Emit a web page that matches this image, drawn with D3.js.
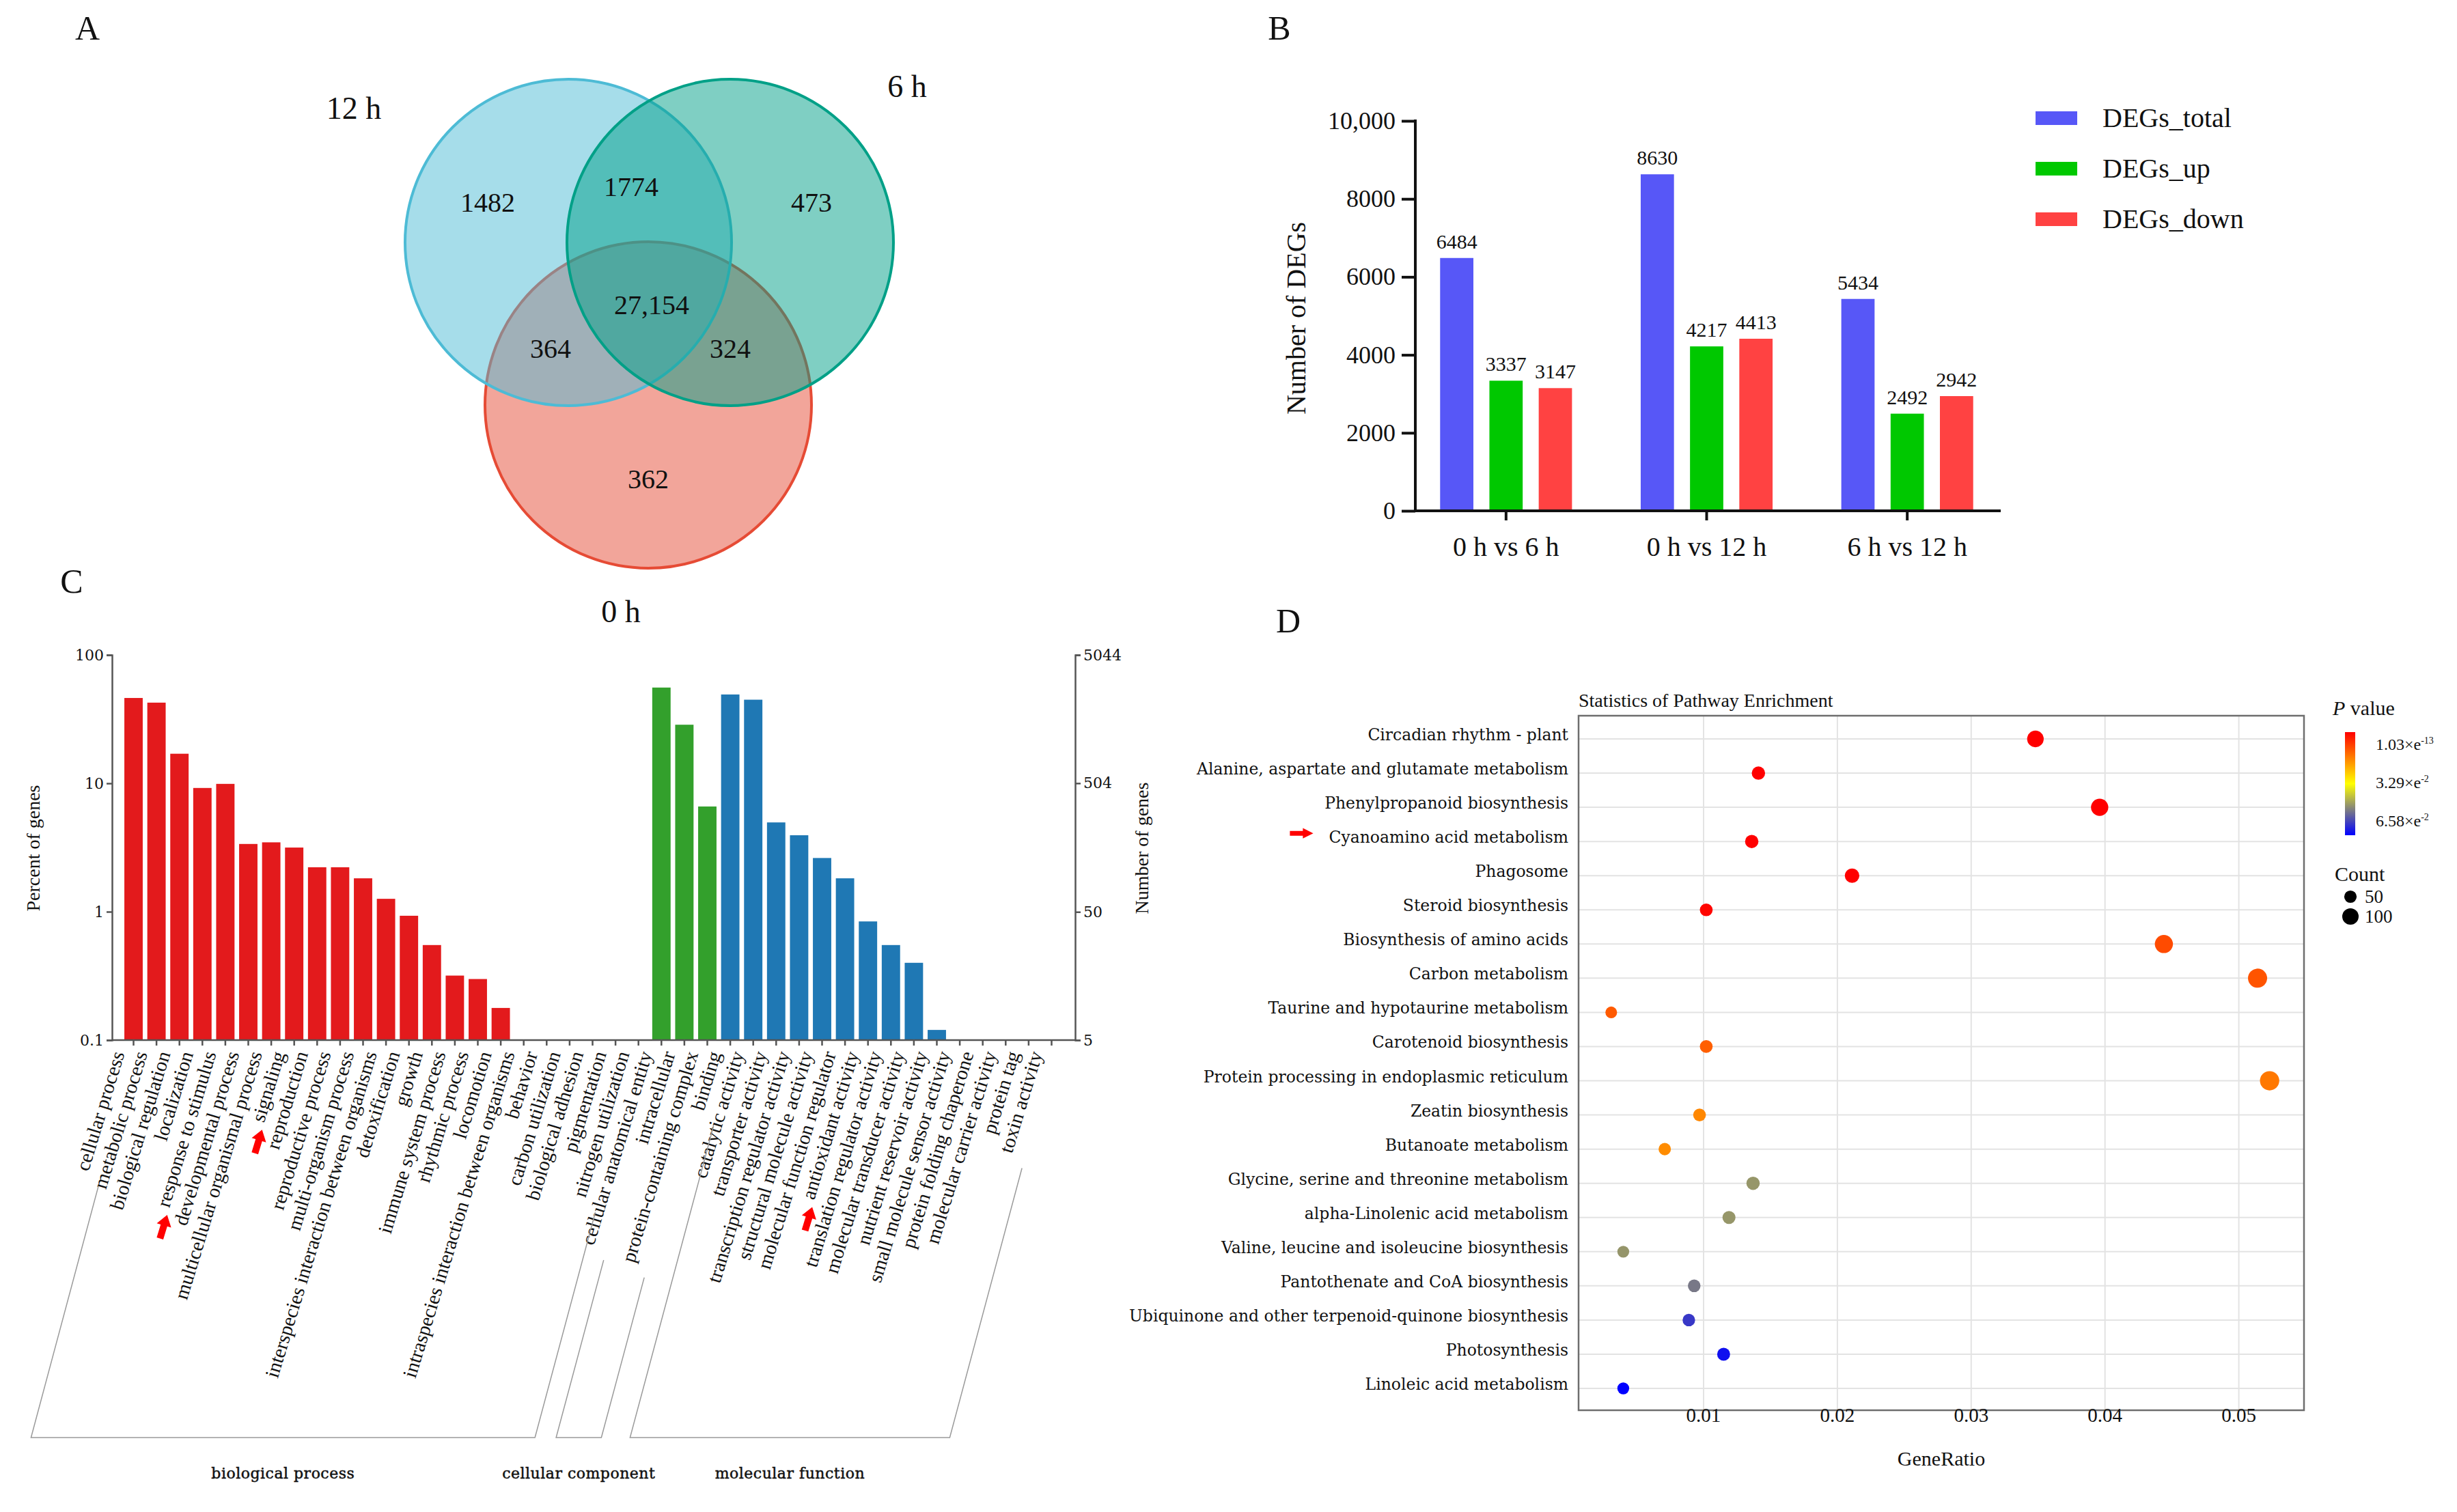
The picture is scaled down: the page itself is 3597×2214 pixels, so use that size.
<!DOCTYPE html>
<html>
<head>
<meta charset="utf-8">
<script src="https://cdn.jsdelivr.net/npm/d3@7"></script>
<style>
  body { margin: 0; background: #fff; }
  text { font-family: "Liberation Serif", "Times New Roman", serif; fill: #111; }
</style>
</head>
<body>
<script>
// ---------- data ----------
// A: Venn
const vennSets = ["12 h", "6 h", "0 h"];
const vennRegions = ["12h", "12h_6h", "6h", "all", "12h_0h", "6h_0h", "0h"];
const vennCounts = [1482, 1774, 473, 27154, 364, 324, 362];

// B: DEG counts
const degGroups = ["0 h vs 6 h", "0 h vs 12 h", "6 h vs 12 h"];
const degSeries = ["DEGs_total", "DEGs_up", "DEGs_down"];
const degTotal = [6484, 8630, 5434];
const degUp = [3337, 4217, 2492];
const degDown = [3147, 4413, 2942];
const degTicks = [0, 2000, 4000, 6000, 8000, 10000];

// C: GO classification (percent of genes)
const goBP = ["cellular process", "metabolic process", "biological regulation", "localization",
  "response to stimulus", "developmental process", "multicellular organismal process", "signaling",
  "reproduction", "reproductive process", "multi-organism process",
  "interspecies interaction between organisms", "detoxification", "growth", "immune system process",
  "rhythmic process", "locomotion", "intraspecies interaction between organisms", "behavior",
  "carbon utilization", "biological adhesion", "pigmentation", "nitrogen utilization"];
const goCC = ["cellular anatomical entity", "intracellular", "protein-containing complex"];
const goMF = ["binding", "catalytic activity", "transporter activity", "transcription regulator activity",
  "structural molecule activity", "molecular function regulator", "antioxidant activity",
  "translation regulator activity", "molecular transducer activity", "nutrient reservoir activity",
  "small molecule sensor activity", "protein folding chaperone", "molecular carrier activity",
  "protein tag", "toxin activity"];
const bpPercent = [46.2, 42.5, 17.0, 9.2, 9.9, 3.37, 3.47, 3.16, 2.22, 2.22, 1.82, 1.26, 0.93, 0.55,
  0.318, 0.299, 0.178, 0, 0, 0, 0, 0, 0];
const ccPercent = [55.7, 28.6, 6.6];
const mfPercent = [49.2, 44.8, 4.96, 3.94, 2.62, 1.82, 0.84, 0.55, 0.40, 0.12, 0, 0, 0, 0, 0];
const goGroupNames = ["biological process", "cellular component", "molecular function"];
const percentTicks = [0.1, 1, 10, 100];
const geneTicks = [5, 50, 504, 5044];
const arrowTerms = ["response to stimulus", "signaling", "antioxidant activity"];

// D: KEGG enrichment
const pathways = ["Circadian rhythm - plant", "Alanine, aspartate and glutamate metabolism",
  "Phenylpropanoid biosynthesis", "Cyanoamino acid metabolism", "Phagosome", "Steroid biosynthesis",
  "Biosynthesis of amino acids", "Carbon metabolism", "Taurine and hypotaurine metabolism",
  "Carotenoid biosynthesis", "Protein processing in endoplasmic reticulum", "Zeatin biosynthesis",
  "Butanoate metabolism", "Glycine, serine and threonine metabolism", "alpha-Linolenic acid metabolism",
  "Valine, leucine and isoleucine biosynthesis", "Pantothenate and CoA biosynthesis",
  "Ubiquinone and other terpenoid-quinone biosynthesis", "Photosynthesis", "Linoleic acid metabolism"];
const geneRatio = [0.0348, 0.0141, 0.0396, 0.0136, 0.0211, 0.0102, 0.0444, 0.0514, 0.0031, 0.0102,
  0.0523, 0.0097, 0.0071, 0.0137, 0.0119, 0.0040, 0.0093, 0.0089, 0.0115, 0.0040];
const pValue = [1.03e-13, 2.1e-9, 4.5e-11, 3.2e-6, 1.8e-5, 6.4e-4, 0.0097, 0.0108, 0.0116, 0.0123,
  0.0155, 0.0174, 0.0181, 0.0464, 0.0465, 0.0466, 0.0503, 0.0586, 0.0638, 0.0658];
const geneCount = [68, 27, 77, 27, 41, 20, 87, 100, 6, 20, 102, 19, 14, 27, 23, 8, 18, 17, 22, 8];
const gratioTicks = [0.01, 0.02, 0.03, 0.04, 0.05];
const pLegend = [["1.03×e", "-13"], ["3.29×e", "-2"], ["6.58×e", "-2"]];
const countLegend = [50, 100];

// ---------- page ----------
const width = 3597, height = 2214;
const wide = '"DejaVu Serif", serif';

const svg = d3.select("body").append("svg")
  .attr("width", width)
  .attr("height", height)
  .style("background", "#fff");

svg.selectAll("text.panel")
  .data([["A", 128, 58], ["B", 1873, 58], ["C", 105, 868], ["D", 1886, 926]])
  .join("text")
  .attr("class", "panel")
  .attr("x", d => d[1]).attr("y", d => d[2])
  .attr("text-anchor", "middle")
  .style("font-size", "50px")
  .text(d => d[0]);

const arrowPath = "M-18,-5 L2,-5 L2,-11 L18,0 L2,11 L2,5 L-18,5 Z";

// ---------- A: Venn ----------
{
  const g = svg.append("g");
  const center = [950, 434], r = 239;
  const offsets = [[-118, -79], [119, -79], [-1, 159]];
  const colors = ["#4DBBD5", "#00A087", "#E64B35"];
  const drawOrder = [2, 0, 1];

  g.selectAll("circle")
    .data(drawOrder)
    .join("circle")
    .attr("cx", i => center[0] + offsets[i][0])
    .attr("cy", i => center[1] + offsets[i][1])
    .attr("r", r)
    .attr("fill", i => colors[i])
    .attr("fill-opacity", 0.5)
    .attr("stroke", i => colors[i])
    .attr("stroke-width", 4);

  const regionPos = [[-236, -138], [-26, -161], [238, -138], [4, 12], [-144, 76], [119, 76], [-1, 267]];
  g.selectAll("text.count")
    .data(vennCounts)
    .join("text")
    .attr("class", "count")
    .attr("x", (d, i) => center[0] + regionPos[i][0])
    .attr("y", (d, i) => center[1] + regionPos[i][1] + 14)
    .attr("text-anchor", "middle")
    .style("font-size", "40px")
    .text(d => d >= 10000 ? d3.format(",")(d) : d);

  const setPos = [[-432, -276], [378, -308], [-41, 461]];
  g.selectAll("text.set")
    .data(vennSets)
    .join("text")
    .attr("class", "set")
    .attr("x", (d, i) => center[0] + setPos[i][0])
    .attr("y", (d, i) => center[1] + setPos[i][1] + 16)
    .attr("text-anchor", "middle")
    .style("font-size", "46px")
    .text(d => d);
}

// ---------- B: DEG bars ----------
{
  const g = svg.append("g");
  const rows = degGroups.map((k, i) => ({ group: k, vals: [degTotal[i], degUp[i], degDown[i]] }));
  const colors = ["#5757F7", "#00C800", "#FF4242"];

  const x0 = d3.scaleBand().domain(degGroups).range([2058, 2939]);
  const x1 = d3.scaleBand().domain(degSeries).range([-120, 120]).padding(0.325);
  const y = d3.scaleLinear().domain([0, 10000]).range([748, 177]);

  const grp = g.selectAll("g.grp")
    .data(rows)
    .join("g")
    .attr("class", "grp")
    .attr("transform", d => `translate(${x0(d.group) + x0.bandwidth() / 2},0)`);

  grp.selectAll("rect")
    .data(d => d.vals.map((v, j) => ({ s: degSeries[j], v, j })))
    .join("rect")
    .attr("x", d => x1(d.s))
    .attr("width", x1.bandwidth())
    .attr("y", d => y(d.v))
    .attr("height", d => y(0) - y(d.v))
    .attr("fill", d => colors[d.j]);

  grp.selectAll("text")
    .data(d => d.vals.map((v, j) => ({ s: degSeries[j], v })))
    .join("text")
    .attr("x", d => x1(d.s) + x1.bandwidth() / 2)
    .attr("y", d => y(d.v) - 14)
    .attr("text-anchor", "middle")
    .style("font-size", "30px")
    .text(d => d.v);

  const yAxis = d3.axisLeft(y)
    .tickValues(degTicks)
    .tickSize(20)
    .tickPadding(9)
    .tickFormat(d => d >= 10000 ? d3.format(",")(d) : d);
  const ya = g.append("g").attr("transform", "translate(2072,0)").call(yAxis);
  ya.select(".domain").attr("stroke", "#111").attr("stroke-width", 4).attr("d", "M0,175V750");
  ya.selectAll(".tick line").attr("stroke", "#111").attr("stroke-width", 4);
  ya.selectAll("text").style("font-family", '"Liberation Serif", serif').style("font-size", "36px").attr("fill", "#111");

  g.append("line")
    .attr("x1", 2070).attr("x2", 2929)
    .attr("y1", 748).attr("y2", 748)
    .attr("stroke", "#111").attr("stroke-width", 4);

  g.selectAll("line.xt")
    .data(degGroups)
    .join("line")
    .attr("class", "xt")
    .attr("x1", d => x0(d) + x0.bandwidth() / 2).attr("x2", d => x0(d) + x0.bandwidth() / 2)
    .attr("y1", 748).attr("y2", 762)
    .attr("stroke", "#111").attr("stroke-width", 4);

  g.selectAll("text.cat")
    .data(degGroups)
    .join("text")
    .attr("class", "cat")
    .attr("x", d => x0(d) + x0.bandwidth() / 2)
    .attr("y", 814)
    .attr("text-anchor", "middle")
    .style("font-size", "40px")
    .text(d => d);

  g.append("text")
    .attr("transform", "translate(1911,466) rotate(-90)")
    .attr("text-anchor", "middle")
    .style("font-size", "40px")
    .text("Number of DEGs");

  const leg = g.selectAll("g.leg")
    .data(degSeries)
    .join("g")
    .attr("class", "leg")
    .attr("transform", (d, i) => `translate(2980,${173 + i * 74})`);
  leg.append("rect").attr("x", 0).attr("y", -10).attr("width", 61).attr("height", 20).attr("fill", (d, i) => colors[i]);
  leg.append("text").attr("x", 98).attr("y", 13).style("font-size", "40px").text(d => d);
}

// ---------- C: GO classification ----------
{
  const g = svg.append("g");
  const cats = [...goBP, ...goCC, ...goMF];
  const pct = [...bpPercent, ...ccPercent, ...mfPercent];
  const groupOf = cats.map((c, i) => i < goBP.length ? 0 : i < goBP.length + goCC.length ? 1 : 2);
  const colors = ["#E31A1C", "#33A02C", "#1F78B4"];

  const x = d3.scaleBand().domain(cats).range([178.7, 1556.3]).paddingInner(0.2).paddingOuter(0.1);
  const yL = d3.scaleLog().domain([0.1, 100]).range([1523, 959]);
  const yR = d3.scaleLog().domain([5, 5044]).range([1523, 959]);
  const base = 1523;

  g.selectAll("rect")
    .data(cats.map((c, i) => ({ c, v: pct[i], grp: groupOf[i] })).filter(d => d.v > 0.1))
    .join("rect")
    .attr("x", d => x(d.c))
    .attr("width", x.bandwidth())
    .attr("y", d => yL(d.v))
    .attr("height", d => base - yL(d.v))
    .attr("fill", d => colors[d.grp]);

  const axisColor = "#555";
  const la = g.append("g").attr("transform", "translate(164,0)")
    .call(d3.axisLeft(yL).tickValues(percentTicks).tickSize(8).tickPadding(4).tickFormat(d => d));
  const ra = g.append("g").attr("transform", "translate(1574,0)")
    .call(d3.axisRight(yR).tickValues(geneTicks).tickSize(8).tickPadding(4).tickFormat(d => d));
  [la, ra].forEach(a => {
    a.select(".domain").attr("stroke", axisColor).attr("stroke-width", 2.5);
    a.selectAll(".tick line").attr("stroke", axisColor).attr("stroke-width", 2.5);
    a.selectAll("text").style("font-family", wide).style("font-size", "22px").attr("fill", "#222");
  });

  const xa = g.append("g").attr("transform", `translate(0,${base})`)
    .call(d3.axisBottom(x).tickSize(8).tickFormat(""));
  xa.select(".domain").attr("stroke", axisColor).attr("stroke-width", 2.5).attr("d", "M164,0H1574");
  xa.selectAll(".tick line").attr("stroke", axisColor).attr("stroke-width", 2.5);

  // rotated category labels
  const ang = 73, rad = ang * Math.PI / 180;
  const dir = [-Math.cos(rad), Math.sin(rad)];
  const anchor = c => [x(c) + x.bandwidth() / 2 - 13, base + 20];
  const labels = g.selectAll("text.go")
    .data(cats)
    .join("text")
    .attr("class", "go")
    .attr("text-anchor", "end")
    .attr("transform", c => `translate(${anchor(c)[0]},${anchor(c)[1]}) rotate(${-ang})`)
    .style("font-size", "29px")
    .text(c => c);

  const len = {};
  labels.each(function (c) { len[c] = this.getComputedTextLength(); });

  // red arrows beside highlighted terms
  g.selectAll("path.arrow")
    .data(arrowTerms)
    .join("path")
    .attr("class", "arrow")
    .attr("d", arrowPath)
    .attr("fill", "#FF0000")
    .attr("transform", c => {
      const a = anchor(c), L = len[c] + 28;
      return `translate(${a[0] + dir[0] * L},${a[1] + dir[1] * L}) rotate(${-ang})`;
    });

  // group brackets
  const bottom = 2105, lineAng = 75 * Math.PI / 180;
  const groups = [goBP, goCC, goMF].map((names, k) => {
    const ends = [names[0], names[names.length - 1]].map(c => {
      const a = anchor(c), L = len[c] + 15;
      const top = [a[0] + dir[0] * L + 19, a[1] + dir[1] * L + 6];
      const bx = top[0] - (bottom - top[1]) / Math.tan(lineAng);
      return { top, bx };
    });
    return { name: goGroupNames[k], ends };
  });

  g.selectAll("path.bracket")
    .data(groups)
    .join("path")
    .attr("class", "bracket")
    .attr("fill", "none")
    .attr("stroke", "#9a9a9a")
    .attr("stroke-width", 1.5)
    .attr("d", d => `M${d.ends[0].top[0]},${d.ends[0].top[1]} L${d.ends[0].bx},${bottom} L${d.ends[1].bx},${bottom} L${d.ends[1].top[0]},${d.ends[1].top[1]}`);

  g.selectAll("text.grp")
    .data(groups)
    .join("text")
    .attr("class", "grp")
    .attr("x", d => (d.ends[0].bx + d.ends[1].bx) / 2)
    .attr("y", 2165)
    .attr("text-anchor", "middle")
    .style("font-family", wide)
    .style("font-size", "22px")
    .style("stroke", "#111")
    .style("stroke-width", 0.5)
    .style("letter-spacing", "0.5px")
    .text(d => d.name);

  g.append("text")
    .attr("transform", "translate(58,1242) rotate(-90)")
    .attr("text-anchor", "middle")
    .style("font-size", "28px")
    .text("Percent of genes");

  g.append("text")
    .attr("transform", "translate(1681,1242) rotate(-90)")
    .attr("text-anchor", "middle")
    .style("font-size", "28px")
    .text("Number of genes");
}

// ---------- D: KEGG enrichment bubble plot ----------
{
  const g = svg.append("g");
  const left = 2311, right = 3373, top = 1048, bot = 2065;

  const x = d3.scaleLinear().domain([0.00066, 0.05487]).range([left, right]);
  const y = d3.scalePoint().domain(pathways).range([1082, 2033]);
  const color = d3.scaleLinear().domain([1.03e-13, 0.0329, 0.0658]).range(["#FF0000", "#FFFF00", "#0000FF"]);
  const rad = d3.scaleLinear().domain([0, 100]).range([8.2, 14]);

  g.selectAll("line.hg")
    .data(pathways)
    .join("line")
    .attr("class", "hg")
    .attr("x1", left).attr("x2", right)
    .attr("y1", d => y(d)).attr("y2", d => y(d))
    .attr("stroke", "#e3e3e3").attr("stroke-width", 2);

  g.selectAll("line.vg")
    .data(gratioTicks)
    .join("line")
    .attr("class", "vg")
    .attr("x1", d => x(d)).attr("x2", d => x(d))
    .attr("y1", top).attr("y2", bot)
    .attr("stroke", "#e3e3e3").attr("stroke-width", 2);

  g.append("rect")
    .attr("x", left).attr("y", top)
    .attr("width", right - left).attr("height", bot - top)
    .attr("fill", "none").attr("stroke", "#6e6e6e").attr("stroke-width", 2.5);

  g.selectAll("circle")
    .data(pathways.map((p, i) => ({ p, gr: geneRatio[i], pv: pValue[i], n: geneCount[i] })))
    .join("circle")
    .attr("cx", d => x(d.gr))
    .attr("cy", d => y(d.p))
    .attr("r", d => rad(d.n))
    .attr("fill", d => color(d.pv));

  const labels = g.selectAll("text.path")
    .data(pathways)
    .join("text")
    .attr("class", "path")
    .attr("x", left - 15)
    .attr("y", d => y(d) + 2)
    .attr("text-anchor", "end")
    .style("font-family", wide)
    .style("font-size", "23.5px")
    .text(d => d);

  // arrow before the highlighted pathway
  labels.filter(d => d === "Cyanoamino acid metabolism").each(function (d) {
    const L = this.getComputedTextLength();
    g.append("path")
      .attr("d", arrowPath)
      .attr("fill", "#FF0000")
      .attr("transform", `translate(${left - 15 - L - 40},${y(d) - 12}) scale(0.95,0.7)`);
  });

  g.selectAll("text.xt")
    .data(gratioTicks)
    .join("text")
    .attr("class", "xt")
    .attr("x", d => x(d))
    .attr("y", 2082)
    .attr("text-anchor", "middle")
    .style("font-size", "29px")
    .text(d => d);

  g.append("text").attr("x", 2842).attr("y", 2146).attr("text-anchor", "middle")
    .style("font-size", "30px").text("GeneRatio");

  g.append("text").attr("x", left).attr("y", 1035)
    .style("font-size", "28px").text("Statistics of Pathway Enrichment");

  // P value legend
  const grad = svg.append("defs").append("linearGradient")
    .attr("id", "pgrad").attr("x1", 0).attr("x2", 0).attr("y1", 0).attr("y2", 1);
  grad.selectAll("stop")
    .data([["0%", "#FF0000"], ["50%", "#FFFF00"], ["100%", "#0000FF"]])
    .join("stop")
    .attr("offset", d => d[0])
    .attr("stop-color", d => d[1]);

  const pt = g.append("text").attr("x", 3415).attr("y", 1047).style("font-size", "30px");
  pt.append("tspan").style("font-style", "italic").text("P");
  pt.append("tspan").text(" value");

  g.append("rect").attr("x", 3433).attr("y", 1072).attr("width", 15).attr("height", 151).attr("fill", "url(#pgrad)");

  const legY = d3.scaleLinear().domain([0, 2]).range([1098, 1210]);
  const pl = g.selectAll("text.pl")
    .data(pLegend)
    .join("text")
    .attr("class", "pl")
    .attr("x", 3478)
    .attr("y", (d, i) => legY(i))
    .style("font-size", "24px");
  pl.append("tspan").text(d => d[0]);
  pl.append("tspan").attr("dy", -9).style("font-size", "14px").text(d => d[1]);

  g.append("text").attr("x", 3418).attr("y", 1290).style("font-size", "30px").text("Count");
  const cl = g.selectAll("g.cl")
    .data(countLegend)
    .join("g")
    .attr("class", "cl")
    .attr("transform", (d, i) => `translate(3441,${1313 + i * 29})`);
  cl.append("circle").attr("r", d => rad(d) - 2).attr("fill", "#000");
  cl.append("text").attr("x", 21).attr("y", 9).style("font-size", "27px").text(d => d);
}
</script>
</body>
</html>
